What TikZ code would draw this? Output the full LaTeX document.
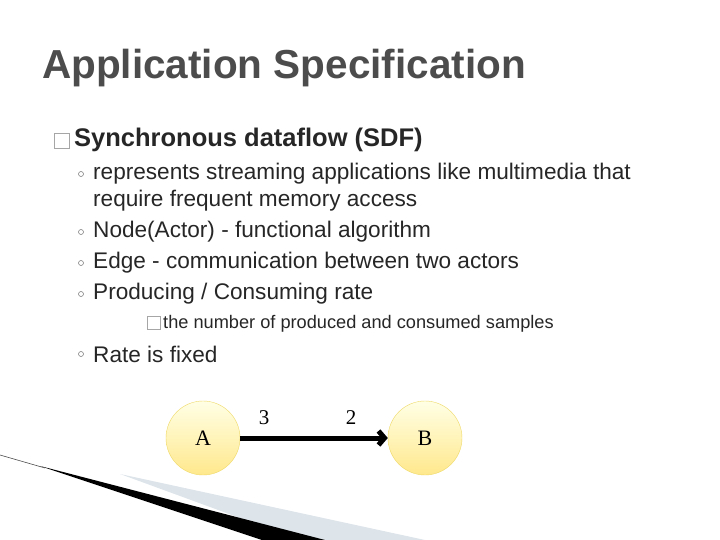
\documentclass[tikz,border=0pt]{standalone}
\usepackage{fontspec}
\usetikzlibrary{arrows.meta}
\setmainfont{Liberation Sans}
\newfontfamily\serifA{Liberation Serif}
\definecolor{wedge}{HTML}{DDE4EA}
\begin{document}
\begin{tikzpicture}[x=1pt,y=-1pt,
  txt/.style={anchor=west,inner sep=0pt,text=black!85},
  actor/.style={circle,draw=yellow!60!brown!70,minimum size=74pt,inner sep=0pt,top color=yellow!10!white,bottom color=yellow!60!orange!45,font=\serifA\fontsize{22}{24}\selectfont},
  box/.style={draw=gray!70,minimum size=15pt,inner sep=0pt,line width=1pt},
  dot/.style={circle,draw=gray,minimum size=5pt,inner sep=0pt,line width=0.6pt}]
\useasboundingbox (0,0) rectangle (720,540);
\fill[wedge] (120,474) -- (425,540) -- (300,540) -- cycle;
\fill[black] (40,466) -- (325,540) -- (262,540) -- cycle;
\draw[black!70,line width=0.6pt] (0,455) -- (45,468);
\node[txt,font=\bfseries\fontsize{40.5}{42}\selectfont,text=black!70] (title) at (42,68) {Application Specification};
\node[box] (b1) at (62,141) {};
\node[txt,font=\bfseries\fontsize{25.5}{27}\selectfont] (h1) at (74,140) {Synchronous dataflow (SDF)};
\foreach \y/\t [count=\i] in {174/{represents streaming applications like multimedia that},232/{Node(Actor) - functional algorithm},263/{Edge - communication between two actors},294/{Producing / Consuming rate},354/{Rate is fixed}}{
  \node[dot] (d\i) at (81,\y) {};
  \node[txt,font=\fontsize{22.6}{24}\selectfont] (t\i) at (93,\y) {\t};
}
\node[txt,font=\fontsize{22.6}{24}\selectfont] (t1b) at (93,201) {require frequent memory access};
\node[box,minimum size=13pt] (b2) at (154,323) {};
\node[txt,font=\fontsize{18.2}{20}\selectfont] (s1) at (163,324) {the number of produced and consumed samples};
\node[actor] (A) at (203,438) {A};
\node[actor] (B) at (425,438) {B};
\draw[line width=5pt,-{Straight Barb[length=6pt,width=14pt]}] (A) -- (B);
\node[font=\serifA\fontsize{21}{24}\selectfont] (l3) at (264,418) {3};
\node[font=\serifA\fontsize{21}{24}\selectfont] (l2) at (351,418) {2};
\end{tikzpicture}
\end{document}
